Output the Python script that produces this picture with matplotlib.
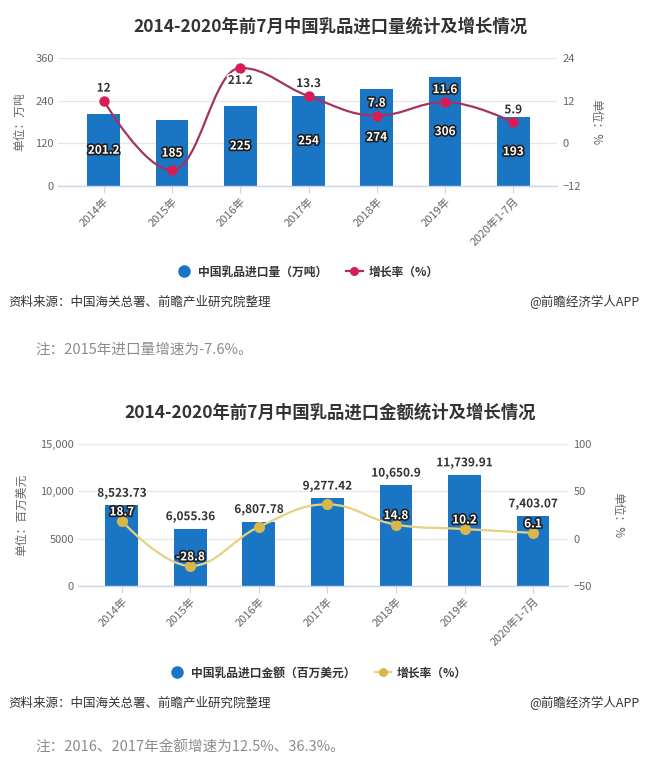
import matplotlib
matplotlib.use("Agg")
import matplotlib.pyplot as plt
import matplotlib.patheffects as pe
from matplotlib.path import Path
from matplotlib.patches import PathPatch
from matplotlib.lines import Line2D

plt.rcParams['font.family'] = ['Noto Sans CJK SC', 'DejaVu Sans']

# ----- Data -----
years = ["2014年", "2015年", "2016年", "2017年", "2018年", "2019年", "2020年1-7月"]

volume = [201.2, 185, 225, 254, 274, 306, 193]            # 万吨
volume_growth = [12, -7.6, 21.2, 13.3, 7.8, 11.6, 5.9]    # %
volume_growth_shown = [True, False, True, True, True, True, True]

value = [8523.73, 6055.36, 6807.78, 9277.42, 10650.9, 11739.91, 7403.07]  # 百万美元
value_growth = [18.7, -28.8, 12.5, 36.3, 14.8, 10.2, 6.1]                  # %
value_growth_shown = [True, True, False, False, True, True, True]

vol_ticks = [0, 120, 240, 360]
vol_rate_ticks = [-12, 0, 12, 24]
val_ticks = [0, 5000, 10000, 15000]
val_rate_ticks = [-50, 0, 50, 100]

# ----- Style -----
W, H = 650, 776
BLUE = "#1b75c5"
DARK = "#333333"
GREY = "#666666"
AXIS = "#ccd6eb"
GRID = "#e6e6e6"


def px_box(x0, y0, x1, y1):
    return [x0 / W, 1 - y1 / H, (x1 - x0) / W, (y1 - y0) / H]


def px(x, y):
    return x / W, 1 - y / H


def tick_num(v):
    # highcharts style axis labels: no thousands separator below 10000
    return f"{v:,}" if abs(v) >= 10000 else f"{v}"


def spline_path(xs, ys, smoothing=1.5):
    '''
    Highcharts-like spline through the points, as cubic bezier segments
    '''
    n = len(xs)
    denom = smoothing + 1
    left, right = [], []
    for i in range(n):
        x, y = xs[i], ys[i]
        if 0 < i < n - 1:
            lx, ly, nx, ny = xs[i - 1], ys[i - 1], xs[i + 1], ys[i + 1]
            lcx = (smoothing * x + lx) / denom
            lcy = (smoothing * y + ly) / denom
            rcx = (smoothing * x + nx) / denom
            rcy = (smoothing * y + ny) / denom
            corr = (rcy - lcy) * (rcx - x) / (rcx - lcx) + y - rcy
            lcy += corr
            rcy += corr
            if lcy > ly and lcy > y:
                lcy = max(ly, y)
                rcy = 2 * y - lcy
            elif lcy < ly and lcy < y:
                lcy = min(ly, y)
                rcy = 2 * y - lcy
            if rcy > ny and rcy > y:
                rcy = max(ny, y)
                lcy = 2 * y - rcy
            elif rcy < ny and rcy < y:
                rcy = min(ny, y)
                lcy = 2 * y - rcy
            left.append((lcx, lcy))
            right.append((rcx, rcy))
        else:
            left.append((x, y))
            right.append((x, y))
    verts = [(xs[0], ys[0])]
    codes = [Path.MOVETO]
    for i in range(1, n):
        verts += [right[i - 1], left[i], (xs[i], ys[i])]
        codes += [Path.CURVE4] * 3
    return Path(verts, codes)


def plot_chart(fig, box, xlim, bars, rates, shown, ticks, rate_ticks,
               line_color, marker_color, bar_label_inside, rate_offset, marker_size):
    ax = fig.add_axes(px_box(*box))
    x = list(range(len(bars)))
    ax.bar(x, bars, width=0.48, color=BLUE, zorder=2)
    ax.set_xlim(*xlim)
    ax.set_ylim(ticks[0], ticks[-1])
    ax.set_yticks(ticks)
    ax.set_yticklabels([tick_num(t) for t in ticks])
    ax.yaxis.grid(True, color=GRID, lw=0.9)
    ax.set_axisbelow(True)
    for s in ["top", "left", "right"]:
        ax.spines[s].set_visible(False)
    ax.spines["bottom"].set_color(AXIS)
    ax.spines["bottom"].set_linewidth(1.0)
    ax.tick_params(axis="y", length=0, labelcolor=GREY, labelsize=8, pad=3)
    ax.tick_params(axis="x", length=5, color=AXIS, labelcolor=GREY, labelsize=8, pad=2)
    ax.set_xticks(x)
    ax.set_xticklabels(years, rotation=45, ha="right", va="top", rotation_mode="anchor")

    axr = ax.twinx()
    axr.set_ylim(rate_ticks[0], rate_ticks[-1])
    axr.set_yticks(rate_ticks)
    for s in axr.spines.values():
        s.set_visible(False)
    axr.tick_params(axis="y", length=0, labelcolor=GREY, labelsize=8, pad=4)

    axr.add_patch(PathPatch(spline_path(x, rates), fill=False, edgecolor=line_color,
                            lw=1.6, zorder=3))
    axr.plot(x, rates, "o", ls="none", color=marker_color, ms=marker_size, zorder=4)

    white_on_dark = [pe.withStroke(linewidth=2.4, foreground="#1f1f1f")]
    dark_on_white = [pe.withStroke(linewidth=2.4, foreground="white")]
    ppx = fig.dpi / 72.0

    # bar values
    for i, v in enumerate(bars):
        if bar_label_inside:
            axr.annotate(f"{v:,}", xy=(i, v / 2), xycoords=ax.transData, ha="center",
                         va="center", fontsize=8.5, fontweight="bold", color="white",
                         path_effects=white_on_dark, zorder=6)
        else:
            axr.annotate(f"{v:,}", xy=(i, v), xycoords=ax.transData, xytext=(0, 4),
                         textcoords="offset points", ha="center", va="bottom",
                         fontsize=8.5, fontweight="bold", color=DARK,
                         path_effects=dark_on_white, zorder=6)

    # growth values, flipped below the marker if they would leave the plot
    top_px = ax.transAxes.transform((0, 1))[1]
    for i, r in enumerate(rates):
        if not shown[i]:
            continue
        my = axr.transData.transform((i, r))[1]
        off = rate_offset
        if my + (off + 6) * ppx > top_px:
            off = -off
        ly = my + off * ppx
        bar_top = ax.transData.transform((i, bars[i]))[1]
        inside = ly < bar_top
        axr.annotate(f"{r}", xy=(i, r), xytext=(0, off), textcoords="offset points",
                     ha="center", va="center", fontsize=8.5, fontweight="bold",
                     color="white" if inside else DARK,
                     path_effects=white_on_dark if inside else dark_on_white, zorder=6)
    return ax, axr


def legend(fig, cx, cy, bar_name, line_color, marker_color):
    handles = [
        Line2D([], [], marker="o", ls="none", color=BLUE, ms=8),
        Line2D([], [], color=line_color, lw=1.6, marker="o", ms=5.5,
               mfc=marker_color, mec=marker_color),
    ]
    leg = fig.legend(handles, [bar_name, "增长率（%）"], loc="center", ncol=2,
                     bbox_to_anchor=px(cx, cy), frameon=False, handlelength=1.4,
                     handletextpad=0.5, columnspacing=1.6,
                     prop={"size": 8.5, "weight": "bold"})
    for t in leg.get_texts():
        t.set_color(DARK)


fig = plt.figure(figsize=(W / 100, H / 100), dpi=100)
fig.patch.set_facecolor("white")

# ----- Chart 1: volume -----
fig.text(*px(330, 27), "2014-2020年前7月中国乳品进口量统计及增长情况", ha="center",
         va="center", fontsize=12.5, fontweight="bold", color=DARK)
plot_chart(fig, (58, 58, 557, 186), (-0.67, 6.64), volume, volume_growth,
           volume_growth_shown, vol_ticks, vol_rate_ticks,
           "#a3345f", "#d81d55", True, 9, 6.5)
fig.text(*px(20, 122), "单位：万吨", rotation=90, ha="center", va="center",
         fontsize=8.5, color=GREY)
fig.text(*px(596, 122), "单位：%", rotation=-90, ha="center", va="center",
         fontsize=8.5, color=GREY)
legend(fig, 307, 272, "中国乳品进口量（万吨）", "#a3345f", "#d81d55")
fig.text(*px(8, 302), "资料来源：中国海关总署、前瞻产业研究院整理", ha="left", va="center",
         fontsize=9, color=DARK)
fig.text(*px(640, 302), "@前瞻经济学人APP", ha="right", va="center", fontsize=9, color=DARK)
fig.text(*px(35, 350), "注：2015年进口量增速为-7.6%。", ha="left", va="center",
         fontsize=10.5, color="#8c8c8c")

# ----- Chart 2: value -----
fig.text(*px(330, 413), "2014-2020年前7月中国乳品进口金额统计及增长情况", ha="center",
         va="center", fontsize=12.5, fontweight="bold", color=DARK)
plot_chart(fig, (78, 444, 568, 586), (-0.64, 6.51), value, value_growth,
           value_growth_shown, val_ticks, val_rate_ticks,
           "#e6d182", "#d9b74a", False, 6.5, 7)
fig.text(*px(22, 515), "单位：百万美元", rotation=90, ha="center", va="center",
         fontsize=8.5, color=GREY)
fig.text(*px(618, 515), "单位：%", rotation=-90, ha="center", va="center",
         fontsize=8.5, color=GREY)
legend(fig, 318, 673, "中国乳品进口金额（百万美元）", "#e6d182", "#d9b74a")
fig.text(*px(8, 703), "资料来源：中国海关总署、前瞻产业研究院整理", ha="left", va="center",
         fontsize=9, color=DARK)
fig.text(*px(640, 703), "@前瞻经济学人APP", ha="right", va="center", fontsize=9, color=DARK)
fig.text(*px(35, 748), "注：2016、2017年金额增速为12.5%、36.3%。", ha="left", va="center",
         fontsize=10.5, color="#8c8c8c")

fig.savefig("out.png", dpi=100, facecolor="white")
